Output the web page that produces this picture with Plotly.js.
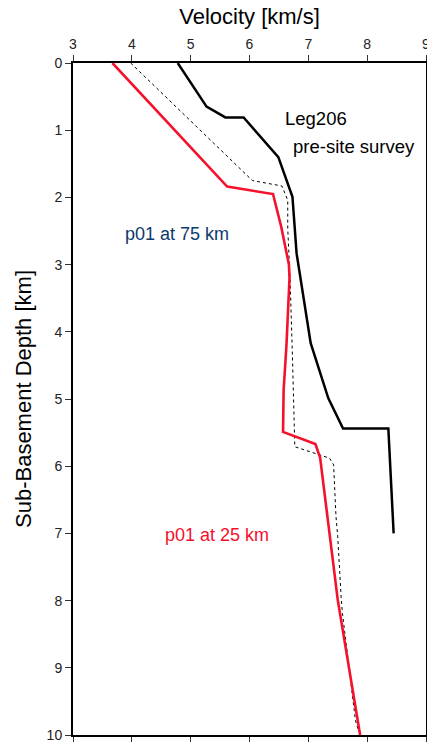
<!DOCTYPE html>
<html>
<head>
<meta charset="utf-8">
<script src="https://cdn.plot.ly/plotly-3.0.1.min.js"></script>
<style>html,body{margin:0;padding:0;background:#fff;}#chart{width:427px;height:742px;}</style>
</head>
<body>
<div id="chart"></div>
<script>
// Leg206 pre-site survey (black solid)
const legVel   = [4.78, 5.27, 5.59, 5.90, 6.49, 6.73, 6.80, 7.04, 7.34, 7.59, 8.36, 8.45];
const legDepth = [0.00, 0.65, 0.81, 0.81, 1.40, 1.99, 2.83, 4.17, 4.99, 5.44, 5.44, 7.00];
// p01 at 25 km (red)
const p25Vel   = [3.67, 5.62, 6.40, 6.54, 6.67, 6.68, 6.63, 6.58, 6.57, 7.12, 7.20, 7.50, 7.88];
const p25Depth = [0.00, 1.84, 1.95, 2.44, 3.00, 3.20, 4.17, 4.87, 5.49, 5.67, 5.87, 7.99, 10.0];
// p01 at 75 km (black dashed)
const p75Vel   = [3.98, 6.05, 6.55, 6.65, 6.65, 6.69, 6.73, 6.77, 6.77, 7.36, 7.43, 7.47, 7.50, 7.56, 7.58, 7.69, 7.80, 7.85];
const p75Depth = [0.00, 1.75, 1.83, 2.04, 2.46, 3.23, 4.37, 5.43, 5.71, 5.88, 5.98, 6.75, 7.05, 7.99, 8.19, 8.98, 9.78, 9.93];

const xTicks = [3, 4, 5, 6, 7, 8, 9];
const yTicks = [0, 1, 2, 3, 4, 5, 6, 7, 8, 9, 10];
const labels = ["Leg206", "pre-site survey", "p01 at 75 km", "p01 at 25 km"];

const FONT = "Liberation Sans, Arial, Helvetica, sans-serif";
const RED = "#f5102c";

const traces = [
  {x: p75Vel, y: p75Depth, mode: "lines", line: {color: "#000", width: 1, dash: "3px,3px"}, hoverinfo: "skip"},
  {x: legVel, y: legDepth, mode: "lines", line: {color: "#000", width: 2.5}, hoverinfo: "skip"},
  {x: p25Vel, y: p25Depth, mode: "lines", line: {color: RED, width: 2.6}, hoverinfo: "skip"}
];

const layout = {
  width: 427, height: 742,
  margin: {l: 73, r: 1, t: 63, b: 7, pad: 0},
  paper_bgcolor: "#fff", plot_bgcolor: "#fff",
  showlegend: false,
  font: {family: FONT, color: "#000"},
  xaxis: {
    side: "top", range: [3, 9], tickvals: xTicks, ticktext: xTicks.map(String),
    showgrid: false, zeroline: false, showline: true, linecolor: "#000", linewidth: 2,
    mirror: "ticks", ticks: "outside", ticklen: 6, tickcolor: "#333", tickwidth: 1,
    ticklabeloverflow: "allow",
    tickfont: {size: 14, color: "#222", family: FONT},
    title: {text: "Velocity [km/s]", font: {size: 22, color: "#000", family: FONT}, standoff: 6}
  },
  yaxis: {
    range: [10, 0], tickvals: yTicks, ticktext: yTicks.map(String),
    showgrid: false, zeroline: false, showline: true, linecolor: "#000", linewidth: 2,
    mirror: "ticks", ticks: "outside", ticklen: 6, tickcolor: "#333", tickwidth: 1,
    ticklabeloverflow: "allow",
    tickfont: {size: 14, color: "#222", family: FONT},
    title: {text: "Sub-Basement Depth [km]", font: {size: 22, color: "#000", family: FONT}, standoff: 9}
  },
  annotations: [
    {text: labels[0], x: 6.57, y: 0.82, xref: "x", yref: "y", xanchor: "left", yanchor: "middle", showarrow: false, font: {size: 18.5, color: "#000", family: FONT}},
    {text: labels[1], x: 6.71, y: 1.24, xref: "x", yref: "y", xanchor: "left", yanchor: "middle", showarrow: false, font: {size: 18.5, color: "#000", family: FONT}},
    {text: labels[2], x: 3.85, y: 2.54, xref: "x", yref: "y", xanchor: "left", yanchor: "middle", showarrow: false, font: {size: 18, color: "#0c3a6c", family: FONT}},
    {text: labels[3], x: 4.53, y: 7.02, xref: "x", yref: "y", xanchor: "left", yanchor: "middle", showarrow: false, font: {size: 18, color: RED, family: FONT}}
  ]
};

Plotly.newPlot("chart", traces, layout, {displayModeBar: false, staticPlot: true});
</script>
</body>
</html>
